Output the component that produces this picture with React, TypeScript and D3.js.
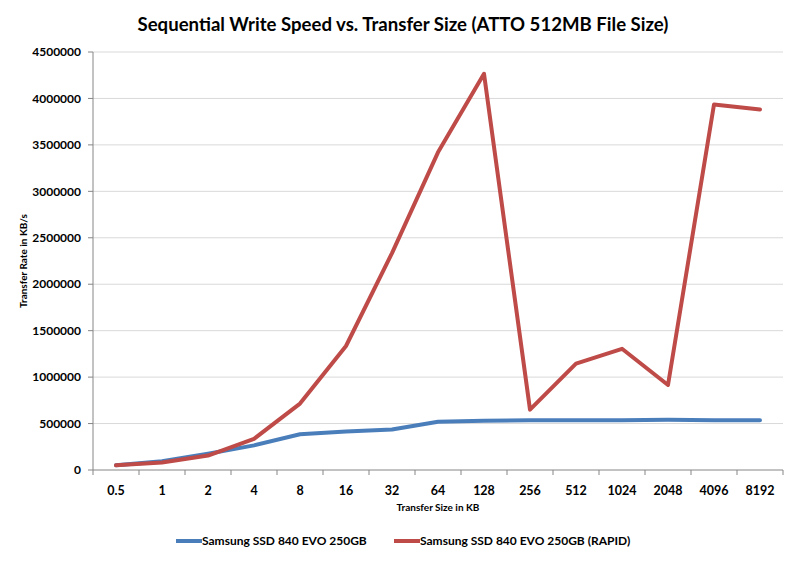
import React from 'react';
import * as d3 from 'd3';

// Transfer sizes in KB (x categories)
const sizes = ['0.5', '1', '2', '4', '8', '16', '32', '64', '128', '256', '512', '1024', '2048', '4096', '8192'];

// Write speeds in KB/s
const evo = [50000, 95000, 175000, 265000, 385000, 415000, 435000, 520000, 530000, 535000, 535000, 535000, 540000, 535000, 535000];
const evoRapid = [50000, 80000, 155000, 335000, 715000, 1335000, 2335000, 3420000, 4265000, 650000, 1145000, 1305000, 915000, 3935000, 3880000];

const yTicks = [0, 500000, 1000000, 1500000, 2000000, 2500000, 3000000, 3500000, 4000000, 4500000];

const seriesNames = ['Samsung SSD 840 EVO 250GB', 'Samsung SSD 840 EVO 250GB (RAPID)'];
const colors = ['#4a7ebb', '#be4b48'];

const W = 800;
const H = 561;
const margin = { top: 52, right: 17, bottom: 91, left: 93 };
const font = 'Lato, "Open Sans", sans-serif';

const App = () => {
  const innerW = W - margin.left - margin.right;
  const innerH = H - margin.top - margin.bottom;

  const x = d3.scaleBand().domain(sizes).range([0, innerW]).padding(0);
  const y = d3.scaleLinear().domain([0, 4500000]).range([innerH, 0]);

  const line = d3
    .line<number>()
    .x((_, i) => (x(sizes[i]) as number) + x.bandwidth() / 2)
    .y((d) => y(d));

  const data = [evo, evoRapid];
  const boundaries = d3.range(sizes.length + 1).map((i) => i * x.step());

  return (
    <svg width={W} height={H} style={{ position: 'absolute', left: 0, top: 0, background: '#fff' }}>
      <text x={403} y={31} textAnchor="middle" fontFamily={font} fontWeight="bold" fontSize={18.6} fill="#000">
        Sequential Write Speed vs. Transfer Size (ATTO 512MB File Size)
      </text>
      <g transform={`translate(${margin.left},${margin.top})`}>
        {/* gridlines */}
        {yTicks.slice(1).map((t) => (
          <line key={t} x1={0} x2={innerW} y1={y(t)} y2={y(t)} stroke="#d9d9d9" strokeWidth={1} />
        ))}
        {/* y axis */}
        <line x1={0} x2={0} y1={0} y2={innerH} stroke="#868686" />
        {yTicks.map((t) => (
          <g key={t} transform={`translate(0,${y(t)})`}>
            <line x1={-5} x2={0} stroke="#868686" />
            <text x={-12} dy="0.35em" textAnchor="end" fontFamily={font} fontWeight="bold" fontSize={12} fill="#000">
              {t}
            </text>
          </g>
        ))}
        {/* x axis */}
        <line x1={0} x2={innerW} y1={innerH} y2={innerH} stroke="#868686" />
        {boundaries.map((b, i) => (
          <line key={i} x1={b} x2={b} y1={innerH} y2={innerH + 5} stroke="#868686" />
        ))}
        {sizes.map((s) => (
          <text
            key={s}
            x={(x(s) as number) + x.bandwidth() / 2}
            y={innerH + 25}
            textAnchor="middle"
            fontFamily={font}
            fontWeight="bold"
            fontSize={12.5}
            fill="#000"
          >
            {s}
          </text>
        ))}
        {/* lines */}
        {data.map((d, i) => (
          <path
            key={i}
            d={line(d) as string}
            fill="none"
            stroke={colors[i]}
            strokeWidth={4}
            strokeLinejoin="round"
            strokeLinecap="round"
          />
        ))}
      </g>
      {/* axis titles */}
      <text
        transform={`translate(27,${margin.top + innerH / 2}) rotate(-90)`}
        textAnchor="middle"
        fontFamily={font}
        fontWeight="bold"
        fontSize={10}
        fill="#000"
      >
        Transfer Rate in KB/s
      </text>
      <text x={margin.left + innerW / 2} y={511} textAnchor="middle" fontFamily={font} fontWeight="bold" fontSize={10} fill="#000">
        Transfer Size in KB
      </text>
      {/* legend */}
      {seriesNames.map((n, i) => {
        const lx = [176, 394][i];
        return (
          <g key={n} transform={`translate(${lx},541)`}>
            <line x1={0} x2={26} y1={0} y2={0} stroke={colors[i]} strokeWidth={4} />
            <text x={26} dy="0.35em" fontFamily={font} fontWeight="bold" fontSize={12} fill="#000">
              {n}
            </text>
          </g>
        );
      })}
    </svg>
  );
};

export default App;
